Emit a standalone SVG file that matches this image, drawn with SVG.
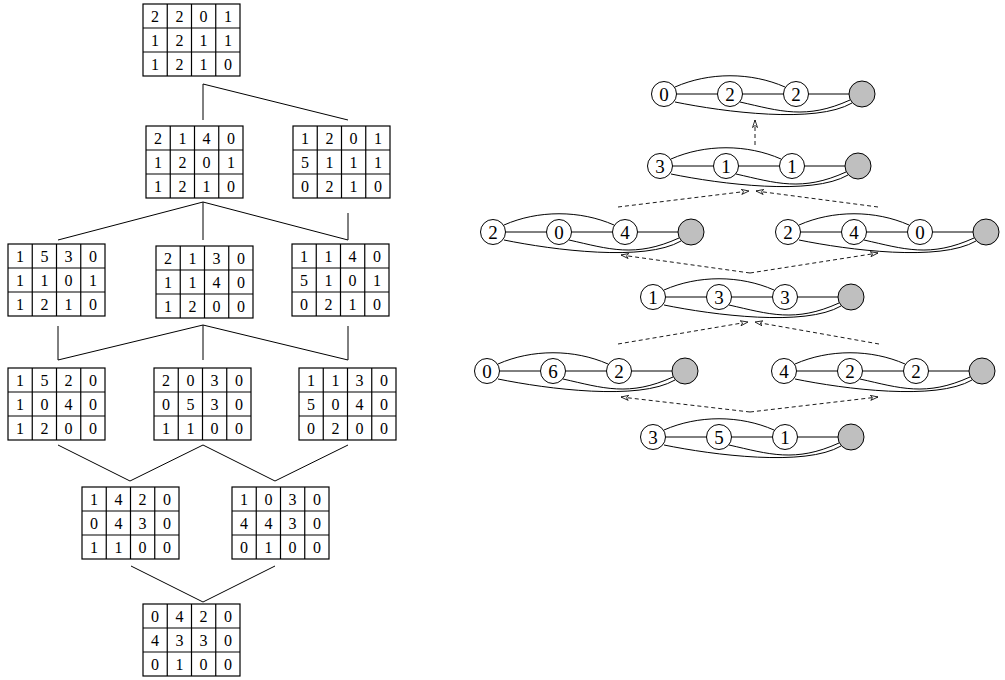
<svg xmlns="http://www.w3.org/2000/svg" width="1005" height="680" viewBox="0 0 1005 680">
<style>
.mb{fill:#fff;stroke:#000;stroke-width:1.2}
.ml{stroke:#000;stroke-width:1.2;fill:none}
.mt{font-family:"Liberation Serif","Times New Roman",serif;font-size:16px;text-anchor:middle;fill:#000}
.tl{stroke:#000;stroke-width:1;fill:none}
.ed{stroke:#000;stroke-width:1;fill:none}
.nd{fill:#fff;stroke:#000;stroke-width:1}
.gr{fill:#bfbfbf;stroke:#000;stroke-width:1}
.nt{font-family:"Liberation Serif","Times New Roman",serif;font-size:19px;text-anchor:middle;fill:#000}
.da{stroke:#000;stroke-width:0.9;fill:none;stroke-dasharray:4 3;marker-end:url(#ah)}
</style>
<defs>
<marker id="ah" markerUnits="userSpaceOnUse" markerWidth="10" markerHeight="8" refX="8" refY="3" orient="auto">
<path d="M0.5,0.5 L8,3 L0.5,5.5 L2.5,3 Z" fill="#fff" stroke="#000" stroke-width="0.8"/>
</marker>
<g id="grid">
<rect class="mb" x="0" y="0" width="97" height="72"/>
<path class="ml" d="M24.25,0V72M48.5,0V72M72.75,0V72M0,24H97M0,48H97"/>
</g>
<g id="gedges">
<path class="ed" d="M0,0H198"/>
<path class="ed" d="M11,-7C45,-22 87,-22 121,-7"/>
<path class="ed" d="M11,8C60,18 152,30 188,9"/>
<path class="ed" d="M76,8C116,17 142,26 186,6"/>
</g>
</defs>

<!-- tree connectors and dashed arrows -->
<g id="connectors">
<path class="tl" d="M203,84V120M203,84L348,120"/>
<path class="tl" d="M203,202L58,240M203,202V240M203,202L348,240M348,213V240"/>
<path class="tl" d="M203,325L58,360M203,325V360M203,325L348,360M58,326V360M348,326V360"/>
<path class="tl" d="M58,445L130,481L203,445L275,481L348,445"/>
<path class="tl" d="M131,566L203,602L275,566"/>
<line class="da" x1="755" y1="145" x2="755" y2="120"/>
<line class="da" x1="618" y1="207" x2="749" y2="191"/>
<line class="da" x1="878" y1="207" x2="756" y2="191"/>
<line class="da" x1="750" y1="273" x2="621" y2="255"/>
<line class="da" x1="750" y1="273" x2="878" y2="253"/>
<line class="da" x1="618" y1="344" x2="748" y2="322"/>
<line class="da" x1="879" y1="344" x2="755" y2="322"/>
<line class="da" x1="750" y1="412" x2="621" y2="397"/>
<line class="da" x1="750" y1="412" x2="878" y2="397"/>
</g>

<!-- matrices -->
<g id="m0" transform="translate(143,4)"><use href="#grid"/>
<text class="mt" x="12.1" y="17.5">2</text><text class="mt" x="36.4" y="17.5">2</text><text class="mt" x="60.6" y="17.5">0</text><text class="mt" x="84.9" y="17.5">1</text>
<text class="mt" x="12.1" y="41.5">1</text><text class="mt" x="36.4" y="41.5">2</text><text class="mt" x="60.6" y="41.5">1</text><text class="mt" x="84.9" y="41.5">1</text>
<text class="mt" x="12.1" y="65.5">1</text><text class="mt" x="36.4" y="65.5">2</text><text class="mt" x="60.6" y="65.5">1</text><text class="mt" x="84.9" y="65.5">0</text>
</g>
<g id="m1a" transform="translate(146,126)"><use href="#grid"/>
<text class="mt" x="12.1" y="17.5">2</text><text class="mt" x="36.4" y="17.5">1</text><text class="mt" x="60.6" y="17.5">4</text><text class="mt" x="84.9" y="17.5">0</text>
<text class="mt" x="12.1" y="41.5">1</text><text class="mt" x="36.4" y="41.5">2</text><text class="mt" x="60.6" y="41.5">0</text><text class="mt" x="84.9" y="41.5">1</text>
<text class="mt" x="12.1" y="65.5">1</text><text class="mt" x="36.4" y="65.5">2</text><text class="mt" x="60.6" y="65.5">1</text><text class="mt" x="84.9" y="65.5">0</text>
</g>
<g id="m1b" transform="translate(293,126)"><use href="#grid"/>
<text class="mt" x="12.1" y="17.5">1</text><text class="mt" x="36.4" y="17.5">2</text><text class="mt" x="60.6" y="17.5">0</text><text class="mt" x="84.9" y="17.5">1</text>
<text class="mt" x="12.1" y="41.5">5</text><text class="mt" x="36.4" y="41.5">1</text><text class="mt" x="60.6" y="41.5">1</text><text class="mt" x="84.9" y="41.5">1</text>
<text class="mt" x="12.1" y="65.5">0</text><text class="mt" x="36.4" y="65.5">2</text><text class="mt" x="60.6" y="65.5">1</text><text class="mt" x="84.9" y="65.5">0</text>
</g>
<g id="m2a" transform="translate(8,244)"><use href="#grid"/>
<text class="mt" x="12.1" y="17.5">1</text><text class="mt" x="36.4" y="17.5">5</text><text class="mt" x="60.6" y="17.5">3</text><text class="mt" x="84.9" y="17.5">0</text>
<text class="mt" x="12.1" y="41.5">1</text><text class="mt" x="36.4" y="41.5">1</text><text class="mt" x="60.6" y="41.5">0</text><text class="mt" x="84.9" y="41.5">1</text>
<text class="mt" x="12.1" y="65.5">1</text><text class="mt" x="36.4" y="65.5">2</text><text class="mt" x="60.6" y="65.5">1</text><text class="mt" x="84.9" y="65.5">0</text>
</g>
<g id="m2b" transform="translate(156,246)"><use href="#grid"/>
<text class="mt" x="12.1" y="17.5">2</text><text class="mt" x="36.4" y="17.5">1</text><text class="mt" x="60.6" y="17.5">3</text><text class="mt" x="84.9" y="17.5">0</text>
<text class="mt" x="12.1" y="41.5">1</text><text class="mt" x="36.4" y="41.5">1</text><text class="mt" x="60.6" y="41.5">4</text><text class="mt" x="84.9" y="41.5">0</text>
<text class="mt" x="12.1" y="65.5">1</text><text class="mt" x="36.4" y="65.5">2</text><text class="mt" x="60.6" y="65.5">0</text><text class="mt" x="84.9" y="65.5">0</text>
</g>
<g id="m2c" transform="translate(292,244)"><use href="#grid"/>
<text class="mt" x="12.1" y="17.5">1</text><text class="mt" x="36.4" y="17.5">1</text><text class="mt" x="60.6" y="17.5">4</text><text class="mt" x="84.9" y="17.5">0</text>
<text class="mt" x="12.1" y="41.5">5</text><text class="mt" x="36.4" y="41.5">1</text><text class="mt" x="60.6" y="41.5">0</text><text class="mt" x="84.9" y="41.5">1</text>
<text class="mt" x="12.1" y="65.5">0</text><text class="mt" x="36.4" y="65.5">2</text><text class="mt" x="60.6" y="65.5">1</text><text class="mt" x="84.9" y="65.5">0</text>
</g>
<g id="m3a" transform="translate(8,368)"><use href="#grid"/>
<text class="mt" x="12.1" y="17.5">1</text><text class="mt" x="36.4" y="17.5">5</text><text class="mt" x="60.6" y="17.5">2</text><text class="mt" x="84.9" y="17.5">0</text>
<text class="mt" x="12.1" y="41.5">1</text><text class="mt" x="36.4" y="41.5">0</text><text class="mt" x="60.6" y="41.5">4</text><text class="mt" x="84.9" y="41.5">0</text>
<text class="mt" x="12.1" y="65.5">1</text><text class="mt" x="36.4" y="65.5">2</text><text class="mt" x="60.6" y="65.5">0</text><text class="mt" x="84.9" y="65.5">0</text>
</g>
<g id="m3b" transform="translate(154,368)"><use href="#grid"/>
<text class="mt" x="12.1" y="17.5">2</text><text class="mt" x="36.4" y="17.5">0</text><text class="mt" x="60.6" y="17.5">3</text><text class="mt" x="84.9" y="17.5">0</text>
<text class="mt" x="12.1" y="41.5">0</text><text class="mt" x="36.4" y="41.5">5</text><text class="mt" x="60.6" y="41.5">3</text><text class="mt" x="84.9" y="41.5">0</text>
<text class="mt" x="12.1" y="65.5">1</text><text class="mt" x="36.4" y="65.5">1</text><text class="mt" x="60.6" y="65.5">0</text><text class="mt" x="84.9" y="65.5">0</text>
</g>
<g id="m3c" transform="translate(299,368)"><use href="#grid"/>
<text class="mt" x="12.1" y="17.5">1</text><text class="mt" x="36.4" y="17.5">1</text><text class="mt" x="60.6" y="17.5">3</text><text class="mt" x="84.9" y="17.5">0</text>
<text class="mt" x="12.1" y="41.5">5</text><text class="mt" x="36.4" y="41.5">0</text><text class="mt" x="60.6" y="41.5">4</text><text class="mt" x="84.9" y="41.5">0</text>
<text class="mt" x="12.1" y="65.5">0</text><text class="mt" x="36.4" y="65.5">2</text><text class="mt" x="60.6" y="65.5">0</text><text class="mt" x="84.9" y="65.5">0</text>
</g>
<g id="m4a" transform="translate(82,487)"><use href="#grid"/>
<text class="mt" x="12.1" y="17.5">1</text><text class="mt" x="36.4" y="17.5">4</text><text class="mt" x="60.6" y="17.5">2</text><text class="mt" x="84.9" y="17.5">0</text>
<text class="mt" x="12.1" y="41.5">0</text><text class="mt" x="36.4" y="41.5">4</text><text class="mt" x="60.6" y="41.5">3</text><text class="mt" x="84.9" y="41.5">0</text>
<text class="mt" x="12.1" y="65.5">1</text><text class="mt" x="36.4" y="65.5">1</text><text class="mt" x="60.6" y="65.5">0</text><text class="mt" x="84.9" y="65.5">0</text>
</g>
<g id="m4b" transform="translate(232,487)"><use href="#grid"/>
<text class="mt" x="12.1" y="17.5">1</text><text class="mt" x="36.4" y="17.5">0</text><text class="mt" x="60.6" y="17.5">3</text><text class="mt" x="84.9" y="17.5">0</text>
<text class="mt" x="12.1" y="41.5">4</text><text class="mt" x="36.4" y="41.5">4</text><text class="mt" x="60.6" y="41.5">3</text><text class="mt" x="84.9" y="41.5">0</text>
<text class="mt" x="12.1" y="65.5">0</text><text class="mt" x="36.4" y="65.5">1</text><text class="mt" x="60.6" y="65.5">0</text><text class="mt" x="84.9" y="65.5">0</text>
</g>
<g id="m5" transform="translate(143,604)"><use href="#grid"/>
<text class="mt" x="12.1" y="17.5">0</text><text class="mt" x="36.4" y="17.5">4</text><text class="mt" x="60.6" y="17.5">2</text><text class="mt" x="84.9" y="17.5">0</text>
<text class="mt" x="12.1" y="41.5">4</text><text class="mt" x="36.4" y="41.5">3</text><text class="mt" x="60.6" y="41.5">3</text><text class="mt" x="84.9" y="41.5">0</text>
<text class="mt" x="12.1" y="65.5">0</text><text class="mt" x="36.4" y="65.5">1</text><text class="mt" x="60.6" y="65.5">0</text><text class="mt" x="84.9" y="65.5">0</text>
</g>

<!-- graphs -->
<g id="g1" transform="translate(664,94)"><use href="#gedges"/>
<circle class="nd" cx="0" cy="0" r="12.5"/><circle class="nd" cx="66" cy="0" r="12.5"/><circle class="nd" cx="132" cy="0" r="12.5"/><circle class="gr" cx="198" cy="0" r="13"/>
<text class="nt" x="0" y="6.5">0</text><text class="nt" x="66" y="6.5">2</text><text class="nt" x="132" y="6.5">2</text>
</g>
<g id="g2" transform="translate(660,166)"><use href="#gedges"/>
<circle class="nd" cx="0" cy="0" r="12.5"/><circle class="nd" cx="66" cy="0" r="12.5"/><circle class="nd" cx="132" cy="0" r="12.5"/><circle class="gr" cx="198" cy="0" r="13"/>
<text class="nt" x="0" y="6.5">3</text><text class="nt" x="66" y="6.5">1</text><text class="nt" x="132" y="6.5">1</text>
</g>
<g id="g3a" transform="translate(493,232)"><use href="#gedges"/>
<circle class="nd" cx="0" cy="0" r="12.5"/><circle class="nd" cx="66" cy="0" r="12.5"/><circle class="nd" cx="132" cy="0" r="12.5"/><circle class="gr" cx="198" cy="0" r="13"/>
<text class="nt" x="0" y="6.5">2</text><text class="nt" x="66" y="6.5">0</text><text class="nt" x="132" y="6.5">4</text>
</g>
<g id="g3b" transform="translate(788,232)"><use href="#gedges"/>
<circle class="nd" cx="0" cy="0" r="12.5"/><circle class="nd" cx="66" cy="0" r="12.5"/><circle class="nd" cx="132" cy="0" r="12.5"/><circle class="gr" cx="198" cy="0" r="13"/>
<text class="nt" x="0" y="6.5">2</text><text class="nt" x="66" y="6.5">4</text><text class="nt" x="132" y="6.5">0</text>
</g>
<g id="g4" transform="translate(653,297)"><use href="#gedges"/>
<circle class="nd" cx="0" cy="0" r="12.5"/><circle class="nd" cx="66" cy="0" r="12.5"/><circle class="nd" cx="132" cy="0" r="12.5"/><circle class="gr" cx="198" cy="0" r="13"/>
<text class="nt" x="0" y="6.5">1</text><text class="nt" x="66" y="6.5">3</text><text class="nt" x="132" y="6.5">3</text>
</g>
<g id="g5a" transform="translate(487,371)"><use href="#gedges"/>
<circle class="nd" cx="0" cy="0" r="12.5"/><circle class="nd" cx="66" cy="0" r="12.5"/><circle class="nd" cx="132" cy="0" r="12.5"/><circle class="gr" cx="198" cy="0" r="13"/>
<text class="nt" x="0" y="6.5">0</text><text class="nt" x="66" y="6.5">6</text><text class="nt" x="132" y="6.5">2</text>
</g>
<g id="g5b" transform="translate(784,371)"><use href="#gedges"/>
<circle class="nd" cx="0" cy="0" r="12.5"/><circle class="nd" cx="66" cy="0" r="12.5"/><circle class="nd" cx="132" cy="0" r="12.5"/><circle class="gr" cx="198" cy="0" r="13"/>
<text class="nt" x="0" y="6.5">4</text><text class="nt" x="66" y="6.5">2</text><text class="nt" x="132" y="6.5">2</text>
</g>
<g id="g6" transform="translate(653,437)"><use href="#gedges"/>
<circle class="nd" cx="0" cy="0" r="12.5"/><circle class="nd" cx="66" cy="0" r="12.5"/><circle class="nd" cx="132" cy="0" r="12.5"/><circle class="gr" cx="198" cy="0" r="13"/>
<text class="nt" x="0" y="6.5">3</text><text class="nt" x="66" y="6.5">5</text><text class="nt" x="132" y="6.5">1</text>
</g>
</svg>
